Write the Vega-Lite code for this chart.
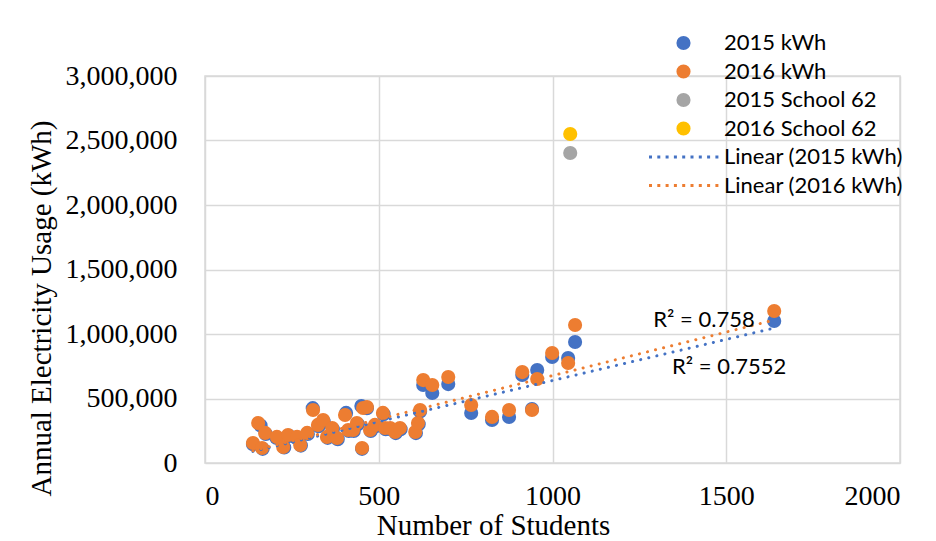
{
  "$schema": "https://vega.github.io/schema/vega-lite/v6.json",
  "width": 695,
  "height": 387,
  "autosize": {"type": "none"},
  "padding": {"left": 205, "top": 76, "right": 36, "bottom": 78},
  "background": "white",
  "config": {
    "view": {"stroke": "#D9D9D9", "strokeWidth": 1.5},
    "axis": {
      "domain": false,
      "ticks": false,
      "tickSize": 0,
      "grid": true,
      "gridColor": "#D9D9D9",
      "gridWidth": 1.5,
      "labelFont": "Liberation Serif",
      "labelFontSize": 28,
      "labelColor": "#000000",
      "titleFont": "Liberation Serif",
      "titleFontSize": 29,
      "titleFontWeight": "normal",
      "titleColor": "#000000"
    }
  },
  "datasets": {
    "points": [
      {"series": "2015 kWh", "students": 138, "kwh": 145000},
      {"series": "2015 kWh", "students": 160, "kwh": 290000},
      {"series": "2015 kWh", "students": 166, "kwh": 110000},
      {"series": "2015 kWh", "students": 175, "kwh": 225000},
      {"series": "2015 kWh", "students": 205, "kwh": 195000},
      {"series": "2015 kWh", "students": 228, "kwh": 120000},
      {"series": "2015 kWh", "students": 242, "kwh": 210000},
      {"series": "2015 kWh", "students": 262, "kwh": 195000},
      {"series": "2015 kWh", "students": 276, "kwh": 135000},
      {"series": "2015 kWh", "students": 296, "kwh": 225000},
      {"series": "2015 kWh", "students": 310, "kwh": 425000},
      {"series": "2015 kWh", "students": 327, "kwh": 285000},
      {"series": "2015 kWh", "students": 342, "kwh": 320000},
      {"series": "2015 kWh", "students": 353, "kwh": 195000},
      {"series": "2015 kWh", "students": 368, "kwh": 262000},
      {"series": "2015 kWh", "students": 382, "kwh": 185000},
      {"series": "2015 kWh", "students": 406, "kwh": 388000},
      {"series": "2015 kWh", "students": 414, "kwh": 248000},
      {"series": "2015 kWh", "students": 428, "kwh": 248000},
      {"series": "2015 kWh", "students": 440, "kwh": 300000},
      {"series": "2015 kWh", "students": 452, "kwh": 110000},
      {"series": "2015 kWh", "students": 450, "kwh": 442000},
      {"series": "2015 kWh", "students": 466, "kwh": 425000},
      {"series": "2015 kWh", "students": 477, "kwh": 248000},
      {"series": "2015 kWh", "students": 491, "kwh": 285000},
      {"series": "2015 kWh", "students": 514, "kwh": 378000},
      {"series": "2015 kWh", "students": 520, "kwh": 262000},
      {"series": "2015 kWh", "students": 535, "kwh": 262000},
      {"series": "2015 kWh", "students": 549, "kwh": 232000},
      {"series": "2015 kWh", "students": 563, "kwh": 262000},
      {"series": "2015 kWh", "students": 607, "kwh": 232000},
      {"series": "2015 kWh", "students": 615, "kwh": 300000},
      {"series": "2015 kWh", "students": 619, "kwh": 400000},
      {"series": "2015 kWh", "students": 628, "kwh": 605000},
      {"series": "2015 kWh", "students": 654, "kwh": 543000},
      {"series": "2015 kWh", "students": 700, "kwh": 612000},
      {"series": "2015 kWh", "students": 766, "kwh": 388000},
      {"series": "2015 kWh", "students": 826, "kwh": 333000},
      {"series": "2015 kWh", "students": 875, "kwh": 357000},
      {"series": "2015 kWh", "students": 913, "kwh": 682000},
      {"series": "2015 kWh", "students": 941, "kwh": 418000},
      {"series": "2015 kWh", "students": 956, "kwh": 721000},
      {"series": "2015 kWh", "students": 999, "kwh": 822000},
      {"series": "2015 kWh", "students": 1045, "kwh": 814000},
      {"series": "2015 kWh", "students": 1065, "kwh": 938000},
      {"series": "2015 kWh", "students": 1638, "kwh": 1101000},
      {"series": "2016 kWh", "students": 138, "kwh": 155000},
      {"series": "2016 kWh", "students": 153, "kwh": 310000},
      {"series": "2016 kWh", "students": 164, "kwh": 116000},
      {"series": "2016 kWh", "students": 173, "kwh": 233000},
      {"series": "2016 kWh", "students": 207, "kwh": 202000},
      {"series": "2016 kWh", "students": 225, "kwh": 124000},
      {"series": "2016 kWh", "students": 239, "kwh": 217000},
      {"series": "2016 kWh", "students": 265, "kwh": 202000},
      {"series": "2016 kWh", "students": 274, "kwh": 140000},
      {"series": "2016 kWh", "students": 294, "kwh": 233000},
      {"series": "2016 kWh", "students": 311, "kwh": 411000},
      {"series": "2016 kWh", "students": 325, "kwh": 295000},
      {"series": "2016 kWh", "students": 340, "kwh": 333000},
      {"series": "2016 kWh", "students": 351, "kwh": 202000},
      {"series": "2016 kWh", "students": 366, "kwh": 271000},
      {"series": "2016 kWh", "students": 380, "kwh": 194000},
      {"series": "2016 kWh", "students": 403, "kwh": 372000},
      {"series": "2016 kWh", "students": 412, "kwh": 256000},
      {"series": "2016 kWh", "students": 426, "kwh": 256000},
      {"series": "2016 kWh", "students": 437, "kwh": 310000},
      {"series": "2016 kWh", "students": 452, "kwh": 116000},
      {"series": "2016 kWh", "students": 455, "kwh": 426000},
      {"series": "2016 kWh", "students": 466, "kwh": 434000},
      {"series": "2016 kWh", "students": 475, "kwh": 256000},
      {"series": "2016 kWh", "students": 489, "kwh": 295000},
      {"series": "2016 kWh", "students": 512, "kwh": 388000},
      {"series": "2016 kWh", "students": 518, "kwh": 271000},
      {"series": "2016 kWh", "students": 533, "kwh": 271000},
      {"series": "2016 kWh", "students": 547, "kwh": 240000},
      {"series": "2016 kWh", "students": 561, "kwh": 271000},
      {"series": "2016 kWh", "students": 605, "kwh": 240000},
      {"series": "2016 kWh", "students": 613, "kwh": 310000},
      {"series": "2016 kWh", "students": 619, "kwh": 411000},
      {"series": "2016 kWh", "students": 628, "kwh": 643000},
      {"series": "2016 kWh", "students": 654, "kwh": 605000},
      {"series": "2016 kWh", "students": 700, "kwh": 667000},
      {"series": "2016 kWh", "students": 766, "kwh": 450000},
      {"series": "2016 kWh", "students": 826, "kwh": 357000},
      {"series": "2016 kWh", "students": 875, "kwh": 411000},
      {"series": "2016 kWh", "students": 913, "kwh": 705000},
      {"series": "2016 kWh", "students": 941, "kwh": 411000},
      {"series": "2016 kWh", "students": 956, "kwh": 651000},
      {"series": "2016 kWh", "students": 999, "kwh": 853000},
      {"series": "2016 kWh", "students": 1045, "kwh": 775000},
      {"series": "2016 kWh", "students": 1065, "kwh": 1070000},
      {"series": "2016 kWh", "students": 1638, "kwh": 1178000},
      {"series": "2015 School 62", "students": 1051, "kwh": 2403000},
      {"series": "2016 School 62", "students": 1051, "kwh": 2550000}
    ],
    "trend": [
      {"series": "Linear (2015 kWh)", "students": 138, "kwh": 90000},
      {"series": "Linear (2015 kWh)", "students": 1638, "kwh": 1046000},
      {"series": "Linear (2016 kWh)", "students": 138, "kwh": 95000},
      {"series": "Linear (2016 kWh)", "students": 1638, "kwh": 1108000}
    ],
    "labels": [
      {"students": 1290, "kwh": 1108000, "label": "R² = 0.758"},
      {"students": 1344, "kwh": 744000, "label": "R² = 0.7552"}
    ]
  },
  "layer": [
    {
      "data": {"name": "points"},
      "mark": {"type": "circle", "size": 200, "opacity": 1, "strokeWidth": 0},
      "encoding": {
        "x": {
          "field": "students", "type": "quantitative",
          "scale": {"domain": [0, 2000], "nice": false},
          "title": "Number of Students",
          "axis": {"values": [0, 500, 1000, 1500, 2000], "format": "d", "labelPadding": 19, "titleX": 288, "titleY": 71, "titleBaseline": "alphabetic"}
        },
        "y": {
          "field": "kwh", "type": "quantitative",
          "scale": {"domain": [0, 3000000], "nice": false},
          "title": "Annual Electricity Usage (kWh)",
          "axis": {"values": [0, 500000, 1000000, 1500000, 2000000, 2500000, 3000000], "format": ",d", "labelPadding": 28, "titleX": -155, "titleY": 232, "titleBaseline": "alphabetic", "titleAngle": -90}
        },
        "color": {
          "field": "series", "type": "nominal",
          "scale": {"domain": ["2015 kWh", "2016 kWh", "2015 School 62", "2016 School 62"], "range": ["#4472C4", "#ED7D31", "#A5A5A5", "#FFC000"]},
          "legend": {"orient": "none", "legendX": 467.5, "legendY": -44, "title": null, "symbolType": "circle", "symbolSize": 200, "symbolStrokeWidth": 0, "symbolOpacity": 1, "labelFont": "Lato", "labelFontSize": 22, "labelColor": "#000000", "labelOffset": 29.5, "labelLimit": 400, "rowPadding": 6.5, "padding": 0}
        }
      }
    },
    {
      "data": {"name": "trend"},
      "mark": {"type": "line", "strokeWidth": 3, "strokeDash": [0.1, 8.2], "strokeCap": "round"},
      "encoding": {
        "x": {"field": "students", "type": "quantitative"},
        "y": {"field": "kwh", "type": "quantitative"},
        "stroke": {
          "field": "series", "type": "nominal",
          "scale": {"domain": ["Linear (2015 kWh)", "Linear (2016 kWh)"], "range": ["#4472C4", "#ED7D31"]},
          "legend": {"orient": "none", "legendX": 468, "legendY": 70, "title": null, "symbolType": "M-35,0H35", "symbolSize": 4, "symbolStrokeWidth": 3, "symbolDash": [3, 5.3], "labelFont": "Lato", "labelFontSize": 22, "labelColor": "#000000", "labelOffset": 29, "labelLimit": 400, "rowPadding": 6.5, "padding": 0}
        }
      }
    },
    {
      "data": {"name": "labels"},
      "mark": {"type": "text", "align": "left", "baseline": "middle", "font": "Lato", "fontSize": 22, "color": "#000000"},
      "encoding": {
        "x": {"field": "students", "type": "quantitative"},
        "y": {"field": "kwh", "type": "quantitative"},
        "text": {"field": "label"}
      }
    }
  ]
}
